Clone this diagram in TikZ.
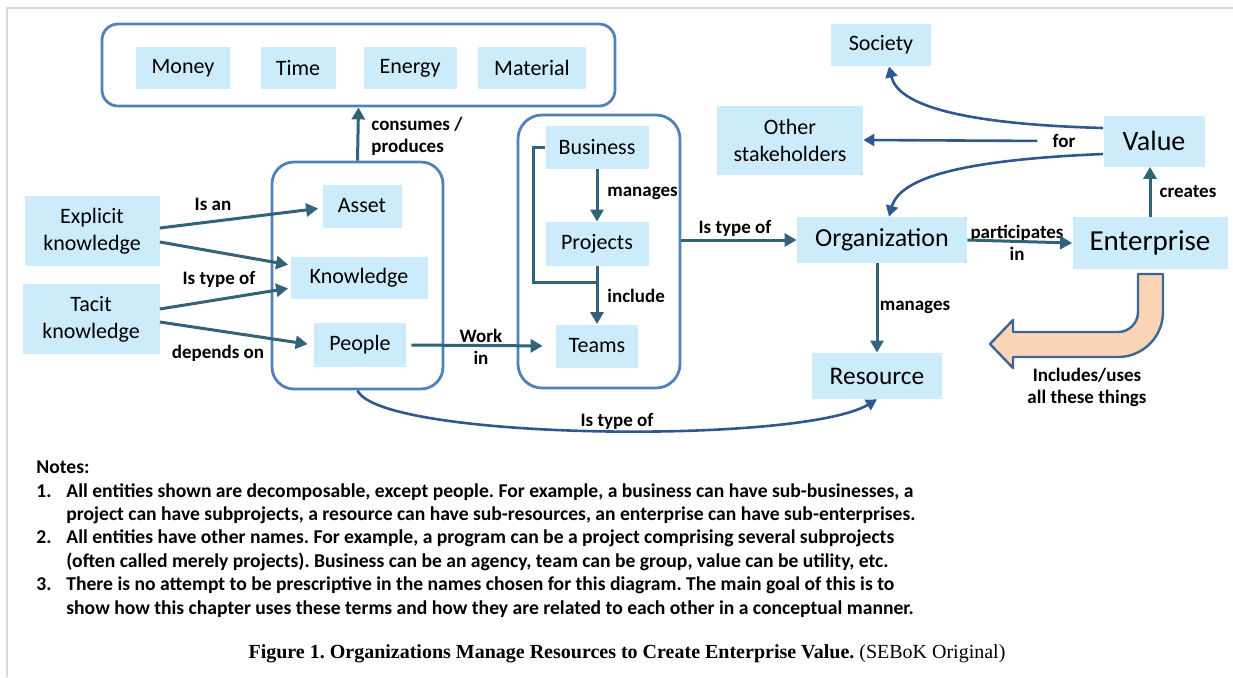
\documentclass[tikz,border=0pt]{standalone}
\usepackage{fontspec}
\setmainfont{Carlito}
\newfontfamily\capfont{Liberation Serif}
\usepackage{array}
\usetikzlibrary{arrows.meta,positioning,calc}
\definecolor{boxblue}{RGB}{204,236,252}
\definecolor{groupblue}{RGB}{79,129,189}
\definecolor{linkteal}{RGB}{49,99,122}
\definecolor{curveblue}{RGB}{47,88,145}
\definecolor{hookfill}{RGB}{251,213,181}
\definecolor{hookline}{RGB}{61,101,150}
\definecolor{framegray}{RGB}{217,217,217}
\frenchspacing

\begin{document}
\begin{tikzpicture}[
    x=0.5pt, y=-0.5pt,
    box/.style={fill=boxblue, inner sep=0pt, align=center, minimum height=21pt, font=\fontsize{11}{13.5}\selectfont},
    group/.style={draw=groupblue, line width=1.4pt, inner sep=0pt},
    link/.style={-{Triangle[length=6pt,width=6.5pt]}, line width=1.5pt, draw=linkteal},
    curvelink/.style={-{Triangle[length=5.5pt,width=6pt]}, line width=1.3pt, draw=curveblue},
    lbl/.style={font=\bfseries\fontsize{9.5}{11}\selectfont, align=center, inner sep=0pt}
]
\useasboundingbox (0,0) rectangle (1233,677);
\draw[framegray, line width=1pt] (7,677) |- (1233,8);

% containers
\node[group, rounded corners=8pt, minimum width=256.5pt, minimum height=41pt] (resgroup) at (358.5,65) {};
\node[group, rounded corners=11pt, minimum width=85.5pt, minimum height=113.5pt] (assetgroup) at (357.5,275.5) {};
\node[group, rounded corners=12pt, minimum width=81pt, minimum height=136.5pt] (teamgroup) at (599,251.5) {};

% things consumed
\node[box, minimum width=47pt] (money) at (183,68) {Money};
\node[box, minimum width=37.5pt] (time) at (298,68) {Time};
\node[box, minimum width=46.5pt] (energy) at (410,68) {Energy};
\node[box, minimum width=54pt] (material) at (532,68) {Material};

% left side
\node[box, minimum width=67.5pt, minimum height=35pt] (explicit) at (92,231) {Explicit\\knowledge};
\node[box, minimum width=68.5pt, minimum height=35pt] (tacit) at (91,319) {Tacit\\knowledge};
\node[box, minimum width=39.5pt, minimum height=21.5pt] (asset) at (362,206) {Asset};
\node[box, minimum width=68.5pt] (knowl) at (359,278) {Knowledge};
\node[box, minimum width=46pt, minimum height=22pt] (people) at (360,345) {People};

% business side
\node[box, minimum width=51.5pt, minimum height=21.5pt] (business) at (597,147) {Business};
\node[box, minimum width=51.5pt, minimum height=22pt] (projects) at (597,244) {Projects};
\node[box, minimum width=41pt, minimum height=21.5pt] (teams) at (597,346) {Teams};

% right side
\node[box, minimum width=85pt, minimum height=23pt, font=\fontsize{13}{15}\selectfont] (org) at (882,240) {Organization};
\node[box, minimum width=77.5pt, minimum height=26pt, font=\fontsize{14.5}{17}\selectfont] (ent) at (1150,243) {Enterprise};
\node[box, minimum width=50.5pt, minimum height=25.5pt, font=\fontsize{14}{16}\selectfont] (value) at (1154,141) {Value};
\node[box, minimum width=50pt] (society) at (881,45) {Society};
\node[box, minimum width=73pt, minimum height=34.5pt] (other) at (790,140) {Other\\stakeholders};
\node[box, minimum width=65pt, minimum height=23pt, font=\fontsize{12.7}{15}\selectfont] (resource) at (877,376) {Resource};

% labels
\node[lbl, align=left, anchor=west] (lconsumes) at (371,136) {consumes /\\produces};
\node[lbl] (lisan) at (213,204) {Is an};
\node[lbl] (ltypeof) at (219,279) {Is type of};
\node[lbl] (ldepends) at (218,353) {depends on};
\node[lbl] (lwork) at (481,347) {Work\\in};
\node[lbl, anchor=west] (lmanages) at (607,193) {manages};
\node[lbl, anchor=west] (linclude) at (607,296) {include};
\node[lbl] (lorgtype) at (735,228) {Is type of};
\node[lbl] (lpart) at (1017,243) {participates\\in};
\node[lbl] (lcreates) at (1188,192) {creates};
\node[lbl] (lfor) at (1064,141) {for};
\node[lbl] (lorgman) at (915,307) {manages};
\node[lbl] (lrestype) at (617,421) {Is type of};
\node[lbl] (lincludes) at (1087,387) {Includes/uses\\all these things};

% arrows
\draw[link] (assetgroup.north) -- (resgroup.south);
\draw[link, shorten >=2pt] ([yshift=1.5pt]explicit.east) -- ([yshift=-1pt]asset.west);
\draw[link, shorten >=1pt] ([yshift=-5.5pt]explicit.east) -- ([yshift=6.5pt]knowl.west);
\draw[link, shorten >=1pt] ([yshift=5pt]tacit.east) -- ([yshift=-5pt]knowl.west);
\draw[link, shorten >=3pt] ([yshift=-1.5pt]tacit.east) -- (people.west);
\draw[link, shorten <=2.5pt, shorten >=6.5pt] (people.east) -- (teams.west);
\draw[link] (business.south) -- (projects.north);
\draw[link] (projects.south) -- (teams.north);
\draw[linkteal, line width=1.5pt] (business.west) -- ++(-12,0) |- ($(projects.south)+(0,16)$);
\draw[link] (teamgroup.east |- org.west) -- (org.west);
\draw[link] (org.east) -- (ent.west);
\draw[link] (ent.north) -- (ent.north |- value.south);
\draw[link] (org.south -| resource.north) -- (resource.north);
\draw[curvelink] ([yshift=6.5pt]value.west) .. controls (960,124) and (898,105) .. ([xshift=4pt]society.south);
\draw[curvelink, shorten <=7.5pt] (lfor.west) -- (other.east);
\draw[curvelink] ([yshift=-6.5pt]value.west) .. controls (960,160) and (900,178) .. ([xshift=3.5pt]org.north);
\draw[curvelink] (assetgroup.south) .. controls (380,440) and (800,445) .. (resource.south);

% hook arrow
\draw[hookline, fill=hookfill, line width=1.2pt, line join=round]
  (1138,274) -- (1163,274) -- (1163,312) arc[start angle=0, end angle=90, radius=45]
  -- (1013,357) -- (1013,368) -- (990,344) -- (1013,320) -- (1013,332)
  -- (1118,332) arc[start angle=90, end angle=0, radius=20] -- cycle;

% notes
\node[anchor=north west, inner sep=0pt, font=\bfseries\fontsize{9.8}{11.7}\selectfont] (notes) at (36,457) {%
\begin{tabular}{@{}p{15pt}@{}l@{}}
\multicolumn{2}{@{}l}{Notes:}\\
1. & All entities shown are decomposable, except people. For example, a business can have sub-businesses, a\\
   & project can have subprojects, a resource can have sub-resources, an enterprise can have sub-enterprises.\\
2. & All entities have other names. For example, a program can be a project comprising several subprojects\\
   & (often called merely projects). Business can be an agency, team can be group, value can be utility, etc.\\
3. & There is no attempt to be prescriptive in the names chosen for this diagram. The main goal of this is to\\
   & show how this chapter uses these terms and how they are related to each other in a conceptual manner.
\end{tabular}};

\node[font=\capfont\fontsize{10}{12}\selectfont] (caption) at (627,654)
  {\textbf{Figure 1. Organizations Manage Resources to Create Enterprise Value.} (SEBoK Original)};
\end{tikzpicture}
\end{document}
